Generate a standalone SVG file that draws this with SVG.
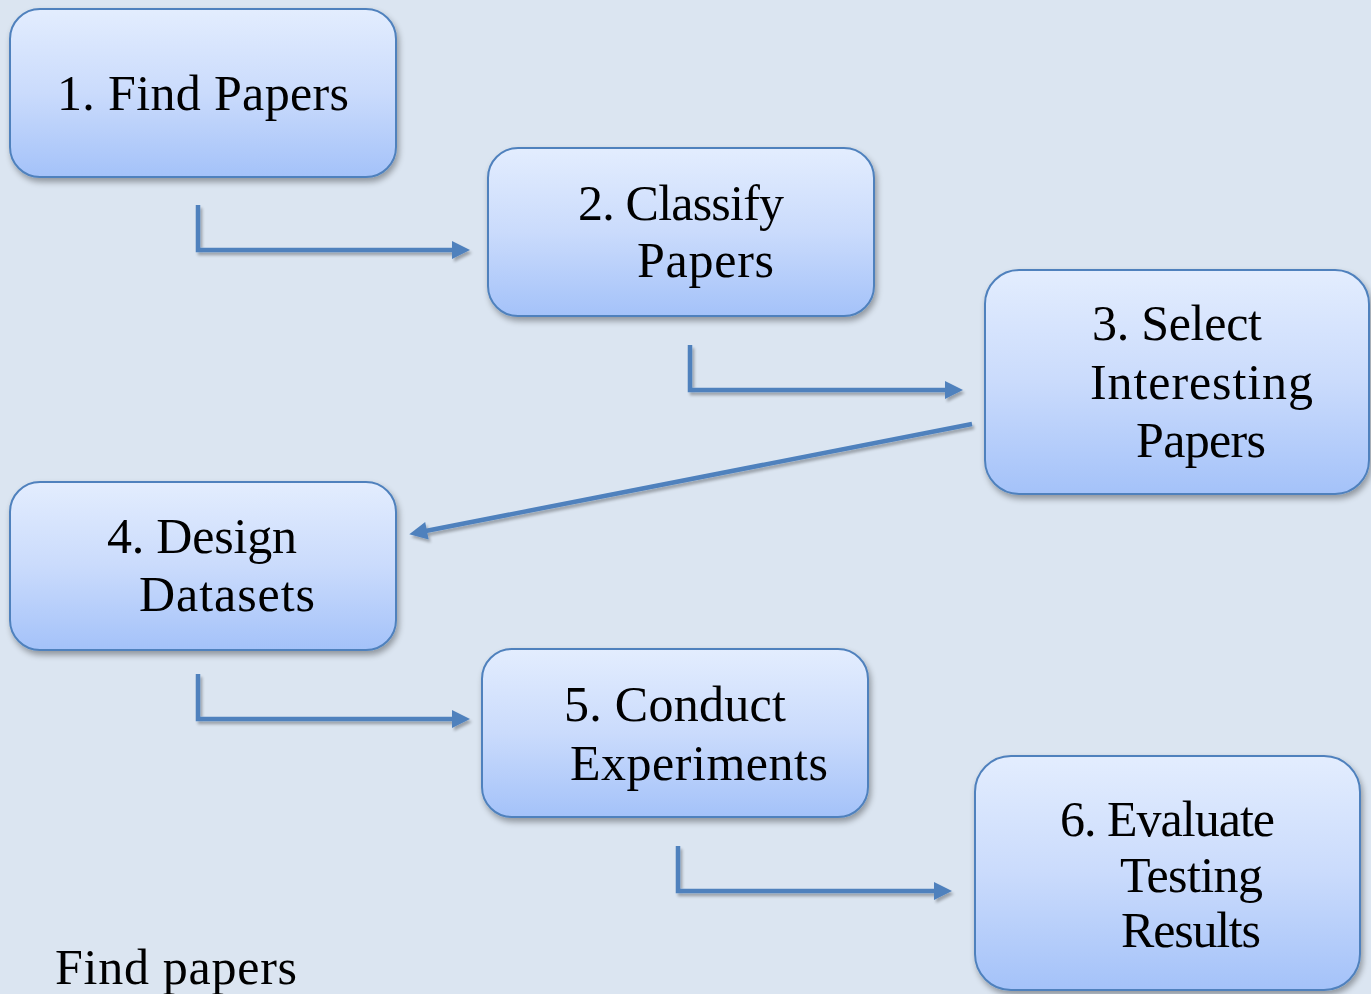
<svg xmlns="http://www.w3.org/2000/svg" width="1371" height="994" viewBox="0 0 1371 994">
<defs>
<linearGradient id="g" x1="0" y1="0" x2="0" y2="1">
<stop offset="0" stop-color="#e3edfe"/>
<stop offset="0.5" stop-color="#cadbfc"/>
<stop offset="1" stop-color="#a4c2f9"/>
</linearGradient>
<filter id="sh" x="-10%" y="-10%" width="125%" height="130%">
<feGaussianBlur in="SourceAlpha" stdDeviation="3"/>
<feOffset dx="2" dy="4" result="b"/>
<feComponentTransfer><feFuncA type="linear" slope="0.35"/></feComponentTransfer>
<feMerge><feMergeNode/><feMergeNode in="SourceGraphic"/></feMerge>
</filter>
<filter id="lsh" filterUnits="userSpaceOnUse" x="0" y="0" width="1371" height="994">
<feGaussianBlur in="SourceAlpha" stdDeviation="1.5"/>
<feOffset dx="2" dy="3" result="b"/>
<feComponentTransfer><feFuncA type="linear" slope="0.3"/></feComponentTransfer>
<feMerge><feMergeNode/><feMergeNode in="SourceGraphic"/></feMerge>
</filter>
<marker id="ah" markerUnits="userSpaceOnUse" markerWidth="24" markerHeight="24" refX="4" refY="12" orient="auto" overflow="visible">
<path d="M0,3 L18,12 L0,21 Z" fill="#4f81bd"/>
</marker>
</defs>
<style>
.box{fill:url(#g);stroke:#4f81bd;stroke-width:2;filter:url(#sh)}
.t{font-family:"Liberation Serif","Times New Roman",serif;font-size:50px;fill:#000}
.c{fill:none;stroke:#4f81bd;stroke-width:4.5;marker-end:url(#ah)}
</style>
<rect width="1371" height="994" fill="#dbe5f1"/>
<g id="connectors" filter="url(#lsh)">
<path class="c" d="M198,205 V250 H456"/>
<path class="c" d="M690,345 V390 H949"/>
<path class="c" d="M972,424 L423,531.5"/>
<path class="c" d="M198,674 V719 H456"/>
<path class="c" d="M678,846 V891 H938"/>
</g>
<g id="n1">
<rect class="box" x="10" y="9" width="386" height="168" rx="30"/>
<text class="t" x="57" y="110" textLength="292">1. Find Papers</text>
</g>
<g id="n2">
<rect class="box" x="488" y="148" width="386" height="168" rx="30"/>
<text class="t" x="578" y="220" textLength="206">2. Classify</text>
<text class="t" x="637" y="277" textLength="137">Papers</text>
</g>
<g id="n3">
<rect class="box" x="985" y="270" width="384" height="224" rx="34"/>
<text class="t" x="1092" y="340" textLength="170">3. Select</text>
<text class="t" x="1090" y="399" textLength="223">Interesting</text>
<text class="t" x="1136" y="457" textLength="130">Papers</text>
</g>
<g id="n4">
<rect class="box" x="10" y="482" width="386" height="168" rx="30"/>
<text class="t" x="107" y="553" textLength="190">4. Design</text>
<text class="t" x="139" y="611" textLength="176">Datasets</text>
</g>
<g id="n5">
<rect class="box" x="482" y="649" width="386" height="168" rx="30"/>
<text class="t" x="564" y="721" textLength="222">5. Conduct</text>
<text class="t" x="570" y="780" textLength="258">Experiments</text>
</g>
<g id="n6">
<rect class="box" x="975" y="756" width="385" height="234" rx="36"/>
<text class="t" x="1060" y="836" textLength="215">6. Evaluate</text>
<text class="t" x="1120" y="892" textLength="143">Testing</text>
<text class="t" x="1121" y="947" textLength="140">Results</text>
</g>
<text class="t" x="55" y="984" textLength="242">Find papers</text>
</svg>
